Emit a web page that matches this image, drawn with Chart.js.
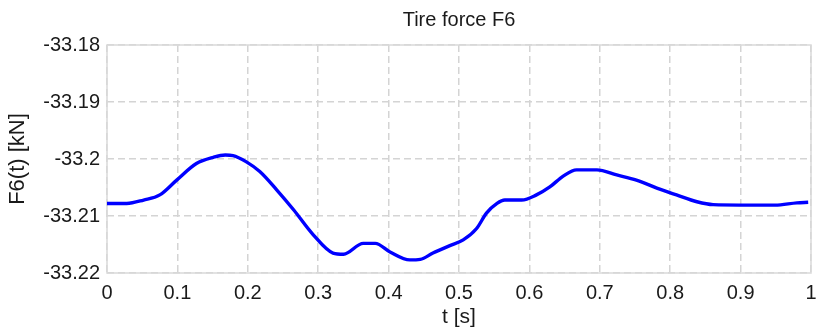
<!DOCTYPE html>
<html>
<head>
<meta charset="utf-8">
<title>Tire force F6</title>
<script src="https://cdn.jsdelivr.net/npm/chart.js@4/dist/chart.umd.min.js"></script>
<style>
  html, body { margin: 0; padding: 0; background: #ffffff; }
  #wrap { width: 817px; height: 330px; }
</style>
</head>
<body>
<div id="wrap"><canvas id="chart" width="817" height="330"></canvas></div>
<script>
// Time samples [s]
const timeS = [
  0, 0.028, 0.052, 0.075, 0.099, 0.127, 0.151, 0.168, 0.179, 0.198,
  0.217, 0.241, 0.265, 0.293, 0.321, 0.336, 0.364, 0.381, 0.402, 0.430,
  0.445, 0.463, 0.487, 0.506, 0.525, 0.539, 0.554, 0.565, 0.589, 0.610,
  0.629, 0.648, 0.667, 0.696, 0.724, 0.752, 0.781, 0.809, 0.838, 0.861,
  0.949, 0.980, 0.996
];
// Tire force F6 [kN]
const forceKN = [
  -33.2078, -33.2078, -33.2072, -33.2063, -33.2037, -33.2008, -33.1997, -33.1993, -33.1994, -33.2005,
  -33.2022, -33.2054, -33.2089, -33.2133, -33.2165, -33.2167, -33.2148, -33.2148, -33.2163, -33.2177,
  -33.2176, -33.2165, -33.2152, -33.2142, -33.2122, -33.2095, -33.2078, -33.2072, -33.2072, -33.2063,
  -33.2049, -33.2030, -33.2019, -33.2019, -33.2028, -33.2037, -33.2051, -33.2063, -33.2075, -33.2080,
  -33.2081, -33.2077, -33.2076
];

const xTickValues = [0, 0.1, 0.2, 0.3, 0.4, 0.5, 0.6, 0.7, 0.8, 0.9, 1];
const xTickLabels = ['0', '0.1', '0.2', '0.3', '0.4', '0.5', '0.6', '0.7', '0.8', '0.9', '1'];
const yTickValues = [-33.22, -33.21, -33.2, -33.19, -33.18];
const yTickLabels = ['-33.22', '-33.21', '-33.2', '-33.19', '-33.18'];

const FONT = "'Liberation Sans', Arial, Helvetica, sans-serif";
const TEXT = '#1a1a1a';
const GRID = '#d4d4d4';
const FRAME = '#d9d9d9';

// Solid frame around the plotting area
const framePlugin = {
  id: 'frame',
  beforeDatasetsDraw(chart) {
    const { ctx, chartArea: a } = chart;
    ctx.save();
    ctx.strokeStyle = FRAME;
    ctx.lineWidth = 1.5;
    ctx.setLineDash([]);
    ctx.strokeRect(a.left, a.top, a.right - a.left, a.bottom - a.top);
    ctx.restore();
  }
};

// horizontal axes: fixed height, no extra side padding for edge labels
function fixHorizontal(height) {
  return function (scale) {
    scale.height = height;
    scale.paddingLeft = 0;
    scale.paddingRight = 0;
  };
}

const points = timeS.map((t, i) => ({ x: t, y: forceKN[i] }));

new Chart(document.getElementById('chart'), {
  type: 'line',
  data: {
    datasets: [{
      data: points,
      borderColor: '#0000ff',
      borderWidth: 3.4,
      pointRadius: 0,
      fill: false,
      cubicInterpolationMode: 'monotone'
    }]
  },
  options: {
    responsive: false,
    animation: false,
    layout: { padding: { left: 0, right: 6, top: 0, bottom: 0 } },
    plugins: {
      legend: { display: false },
      tooltip: { enabled: false },
      title: { display: false }
    },
    scales: {
      // top axis only carries the chart title, centred over the plot
      top: {
        type: 'linear',
        position: 'top',
        min: 0,
        max: 1,
        afterFit: fixHorizontal(45),
        ticks: { display: false },
        grid: { display: false, drawTicks: false },
        border: { display: false },
        title: {
          display: true,
          text: 'Tire force F6',
          color: TEXT,
          font: { family: FONT, size: 20 },
          padding: { top: 8, bottom: 0 }
        }
      },
      x: {
        type: 'linear',
        position: 'bottom',
        min: 0,
        max: 1,
        afterBuildTicks(scale) { scale.ticks = xTickValues.map(v => ({ value: v })); },
        afterFit: fixHorizontal(57),
        ticks: {
          color: TEXT,
          font: { family: FONT, size: 20 },
          padding: 8,
          maxRotation: 0,
          callback: (v, i) => xTickLabels[i]
        },
        grid: { color: GRID, lineWidth: 1.5, drawTicks: false },
        border: { display: false, dash: [7, 4] },
        title: {
          display: true,
          text: 't [s]',
          color: TEXT,
          font: { family: FONT, size: 21 },
          padding: { top: 0, bottom: 0 }
        }
      },
      y: {
        type: 'linear',
        min: -33.22,
        max: -33.18,
        afterBuildTicks(scale) { scale.ticks = yTickValues.map(v => ({ value: v })); },
        afterFit(scale) { scale.width = 107; },
        ticks: {
          color: TEXT,
          font: { family: FONT, size: 20 },
          padding: 7,
          callback: (v, i) => yTickLabels[i]
        },
        grid: { color: GRID, lineWidth: 1.5, drawTicks: false },
        border: { display: false, dash: [7, 4] },
        title: {
          display: true,
          text: 'F6(t) [kN]',
          color: TEXT,
          font: { family: FONT, size: 22 },
          padding: { top: 5, bottom: 0 }
        }
      }
    }
  },
  plugins: [framePlugin]
});
</script>
</body>
</html>
